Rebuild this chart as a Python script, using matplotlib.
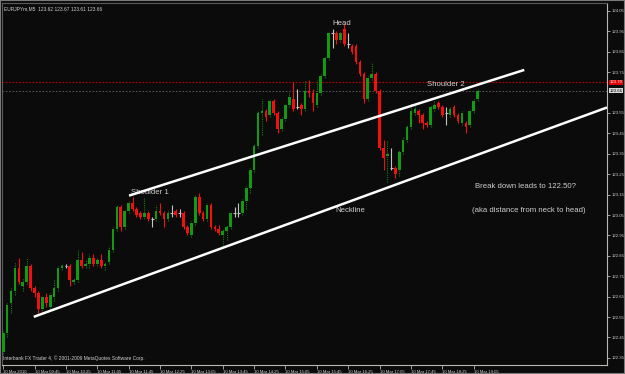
import numpy as np
import matplotlib
matplotlib.use("Agg")
import matplotlib.pyplot as plt
from matplotlib.patches import Rectangle

plt.rcParams["font.family"] = ["Liberation Sans", "DejaVu Sans"]

# EURJPYm M5 bars, 10 Mar 2010 09:05 .. 19:10
opens = [122.38, 122.47, 122.62, 122.68, 122.79, 122.70, 122.72, 122.80, 122.69, 122.67,
         122.59, 122.65, 122.60, 122.65, 122.69, 122.79, 122.80, 122.80, 122.72, 122.73,
         122.83, 122.80, 122.81, 122.84, 122.81, 122.83, 122.80, 122.82, 122.88, 122.98,
         123.09, 122.99, 123.07, 123.11, 123.08, 123.06, 123.04, 123.06, 123.03, 123.03,
         123.07, 123.06, 123.03, 123.06, 123.07, 123.06, 123.06, 122.99, 122.95, 123.01,
         123.14, 123.06, 123.03, 123.10, 122.99, 122.98, 122.95, 122.97, 122.99, 123.06,
         123.06, 123.06, 123.12, 123.18, 123.27, 123.39, 123.55, 123.56, 123.54, 123.61,
         123.55, 123.47, 123.52, 123.59, 123.62, 123.58, 123.59, 123.57, 123.66, 123.65,
         123.59, 123.65, 123.73, 123.82, 123.94, 123.94, 123.91, 123.96, 123.89, 123.88,
         123.88, 123.80, 123.74, 123.62, 123.72, 123.74, 123.66, 123.38, 123.34, 123.28,
         123.28, 123.27, 123.36, 123.42, 123.48, 123.55, 123.56, 123.54, 123.50, 123.49,
         123.57, 123.60, 123.58, 123.55, 123.54, 123.58, 123.54, 123.50, 123.50, 123.49,
         123.56, 123.62]
highs = [122.48, 122.62, 122.69, 122.82, 122.84, 122.74, 122.84, 122.81, 122.70, 122.68,
         122.66, 122.67, 122.67, 122.73, 122.80, 122.81, 122.81, 122.81, 122.74, 122.88,
         122.87, 122.83, 122.86, 122.86, 122.84, 122.86, 122.82, 122.90, 122.99, 123.10,
         123.10, 123.08, 123.12, 123.14, 123.09, 123.07, 123.14, 123.07, 123.04, 123.10,
         123.11, 123.07, 123.07, 123.10, 123.08, 123.08, 123.07, 123.00, 123.02, 123.15,
         123.16, 123.07, 123.11, 123.11, 123.00, 123.00, 122.98, 123.00, 123.07, 123.09,
         123.11, 123.13, 123.19, 123.28, 123.40, 123.56, 123.62, 123.57, 123.62, 123.62,
         123.56, 123.53, 123.60, 123.65, 123.70, 123.67, 123.60, 123.71, 123.71, 123.67,
         123.71, 123.74, 123.83, 123.95, 123.96, 123.95, 123.95, 123.99, 123.94, 123.89,
         123.89, 123.81, 123.75, 123.73, 123.80, 123.75, 123.67, 123.42, 123.42, 123.38,
         123.29, 123.37, 123.43, 123.49, 123.60, 123.59, 123.57, 123.55, 123.51, 123.59,
         123.61, 123.61, 123.59, 123.58, 123.58, 123.59, 123.55, 123.56, 123.51, 123.57,
         123.62, 123.67]
lows = [122.37, 122.45, 122.57, 122.66, 122.71, 122.68, 122.71, 122.68, 122.65, 122.57,
        122.57, 122.60, 122.59, 122.63, 122.68, 122.78, 122.79, 122.70, 122.71, 122.72,
        122.79, 122.79, 122.79, 122.80, 122.80, 122.79, 122.78, 122.81, 122.87, 122.97,
        122.97, 122.98, 123.06, 123.07, 123.04, 123.03, 123.03, 123.02, 122.99, 123.02,
        123.05, 122.99, 123.02, 123.04, 123.04, 123.04, 122.98, 122.95, 122.94, 123.00,
        123.05, 123.02, 123.02, 122.98, 122.97, 122.95, 122.90, 122.93, 122.98, 123.04,
        123.04, 123.05, 123.08, 123.16, 123.26, 123.38, 123.44, 123.51, 123.53, 123.54,
        123.45, 123.46, 123.51, 123.58, 123.56, 123.57, 123.54, 123.56, 123.63, 123.56,
        123.58, 123.64, 123.72, 123.81, 123.87, 123.89, 123.90, 123.88, 123.87, 123.84,
        123.79, 123.73, 123.60, 123.61, 123.71, 123.65, 123.37, 123.27, 123.21, 123.27,
        123.23, 123.24, 123.35, 123.41, 123.47, 123.54, 123.50, 123.47, 123.48, 123.48,
        123.56, 123.57, 123.53, 123.49, 123.53, 123.53, 123.50, 123.49, 123.45, 123.48,
        123.55, 123.61]
closes = [122.47, 122.61, 122.68, 122.79, 122.72, 122.72, 122.80, 122.69, 122.67, 122.59,
          122.65, 122.62, 122.66, 122.69, 122.79, 122.80, 122.80, 122.73, 122.73, 122.83,
          122.80, 122.81, 122.84, 122.81, 122.83, 122.80, 122.81, 122.88, 122.98, 123.09,
          122.99, 123.07, 123.11, 123.08, 123.05, 123.04, 123.06, 123.03, 123.03, 123.07,
          123.06, 123.03, 123.06, 123.06, 123.05, 123.06, 122.99, 122.96, 123.01, 123.14,
          123.06, 123.03, 123.10, 122.99, 122.98, 122.96, 122.97, 122.99, 123.06, 123.06,
          123.06, 123.12, 123.18, 123.27, 123.39, 123.55, 123.56, 123.53, 123.61, 123.55,
          123.47, 123.52, 123.59, 123.63, 123.57, 123.58, 123.57, 123.66, 123.65, 123.60,
          123.65, 123.73, 123.82, 123.94, 123.94, 123.91, 123.94, 123.89, 123.89, 123.85,
          123.80, 123.74, 123.62, 123.72, 123.74, 123.66, 123.38, 123.33, 123.35, 123.28,
          123.25, 123.36, 123.42, 123.48, 123.56, 123.57, 123.54, 123.50, 123.49, 123.58,
          123.59, 123.58, 123.54, 123.55, 123.57, 123.54, 123.51, 123.55, 123.48, 123.56,
          123.61, 123.66]

time_labels = ["10 Mar 2010", "10 Mar 09:45", "10 Mar 10:25", "10 Mar 11:05", "10 Mar 11:45",
               "10 Mar 12:25", "10 Mar 13:05", "10 Mar 13:45", "10 Mar 14:25", "10 Mar 15:05",
               "10 Mar 15:45", "10 Mar 16:25", "10 Mar 17:05", "10 Mar 17:45", "10 Mar 18:25",
               "10 Mar 19:05"]
time_label_bars = [0, 8, 16, 24, 32, 40, 48, 56, 64, 72, 80, 88, 96, 104, 112, 120]
price_ticks = [124.05, 123.95, 123.85, 123.75, 123.55, 123.45, 123.35, 123.25, 123.15,
               123.05, 122.95, 122.85, 122.75, 122.65, 122.55, 122.45, 122.35]

ask_price = 123.70
bid_price = 123.66
# trend lines: (bar, price) end points
upper_line = ([32.1, 132.9], [123.145, 123.761])
neck_line = ([7.8, 154.0], [122.551, 123.577])

BG = "#0b0b0b"
GREEN = "#129a12"
RED = "#f01010"
DOJI = "#c4c4c4"
TEXT = "#cfcfcf"
AXIS = "#b8b8b0"

W, H = 625, 374
fig = plt.figure(figsize=(W / 100, H / 100), dpi=100, facecolor=BG)
ax = fig.add_axes([2 / W, 9 / H, 605 / W, 362 / H], facecolor=BG)

o = np.array(opens)
h = np.array(highs)
l = np.array(lows)
c = np.array(closes)
x = np.arange(len(o))
up = c > o
down = c < o
doji = c == o

# wicks
ax.vlines(x[up], l[up], h[up], color="#0f800f", lw=0.8, linestyles=(0, (1, 1)), zorder=2)
ax.vlines(x[down], l[down], h[down], color=RED, lw=0.8, zorder=2)
ax.vlines(x[doji], l[doji], h[doji], color=DOJI, lw=0.8, zorder=2)
ax.hlines(o[doji], x[doji] - 0.35, x[doji] + 0.35, color=DOJI, lw=0.8, zorder=3)

# bodies
body_w = 0.68
ax.bar(x[up], np.maximum(c[up] - o[up], 0.005), bottom=o[up], width=body_w,
       color=GREEN, edgecolor="none", zorder=3)
ax.bar(x[down], np.maximum(o[down] - c[down], 0.005), bottom=c[down], width=body_w,
       color=RED, edgecolor="none", zorder=3)

# ask / bid lines
ax.axhline(ask_price, color="#c00000", lw=0.8, ls=(0, (1.5, 1.5)), zorder=1)
ax.axhline(bid_price, color="#505058", lw=0.8, ls=(0, (1.5, 1.5)), zorder=1)

# head & shoulders trend lines
ax.plot(*upper_line, color="white", lw=1.8, solid_capstyle="butt", zorder=4)
ax.plot(*neck_line, color="white", lw=1.8, solid_capstyle="butt", zorder=4)

# annotations
ax.text(86.4, 123.99, "Head", color=TEXT, fontsize=5.6, ha="center", va="center")
ax.text(37.5, 123.16, "Shoulder 1", color=TEXT, fontsize=5.6, ha="center", va="center")
ax.text(112.8, 123.69, "Shoulder 2", color=TEXT, fontsize=5.6, ha="center", va="center")
ax.text(88.5, 123.07, "Neckline", color=TEXT, fontsize=5.6, ha="center", va="center")
ax.text(133.2, 123.19, "Break down leads to 122.50?", color=TEXT, fontsize=5.6,
        ha="center", va="center")
ax.text(134.0, 123.07, "(aka distance from neck to head)", color=TEXT, fontsize=5.6,
        ha="center", va="center")

ax.text(0.004, 0.992, "EURJPYm,M5  %.2f %.2f %.2f %.2f" % (o[-1], h[-1], l[-1], c[-1]),
        transform=ax.transAxes, color=TEXT, fontsize=3.5, ha="left", va="top")
ax.text(0.002, 0.012, "Interbank FX Trader 4, \u00a9 2001-2009 MetaQuotes Software Corp.",
        transform=ax.transAxes, color=TEXT, fontsize=3.5, ha="left", va="bottom")

ax.set_xlim(-0.3, 154.0)
ax.set_ylim(122.315, 124.089)

# right price scale
ax.yaxis.tick_right()
ax.set_yticks(price_ticks)
ax.set_yticklabels(["%.2f" % p for p in price_ticks])
ax.tick_params(axis="y", colors=AXIS, labelcolor=TEXT, labelsize=3.1, length=2, width=0.6, pad=1.5)

# time scale
ax.set_xticks(time_label_bars)
ax.set_xticklabels(time_labels, ha="left")
ax.tick_params(axis="x", colors=AXIS, labelcolor=TEXT, labelsize=3.1, length=3, width=0.6, pad=0.5)

for side in ["right", "bottom"]:
    ax.spines[side].set_color(AXIS)
    ax.spines[side].set_linewidth(0.8)
for side in ["left", "top"]:
    ax.spines[side].set_color("#5a5a5a")
    ax.spines[side].set_linewidth(0.8)

# price tags on the scale
ax.text(1.004, ask_price, "%.2f" % ask_price, transform=ax.get_yaxis_transform(),
        color="white", fontsize=3.1, ha="left", va="center",
        bbox=dict(boxstyle="square,pad=0.2", fc="#e00000", ec="none"))
ax.text(1.004, bid_price, "%.2f" % bid_price, transform=ax.get_yaxis_transform(),
        color="black", fontsize=3.1, ha="left", va="center",
        bbox=dict(boxstyle="square,pad=0.2", fc="#d8d8d8", ec="none"))

fig.patches.append(Rectangle((0, 0), 1, 1, transform=fig.transFigure, fill=False,
                             ec="#7a7a7a", lw=1.5))

fig.savefig("out.png", dpi=100, facecolor=BG)
